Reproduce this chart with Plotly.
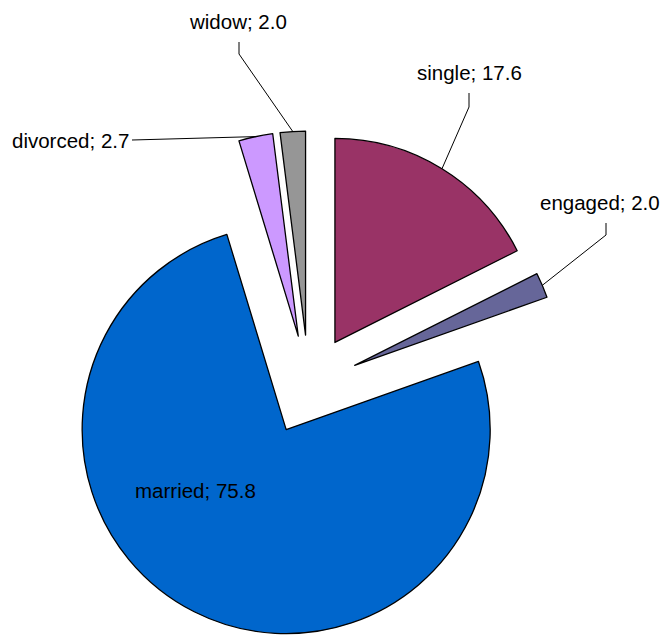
import math
import plotly.graph_objects as go

# ---- data ----
categories = ["single", "engaged", "married", "divorced", "widow"]
values = [17.6, 2.0, 75.8, 2.7, 2.0]
colors = ["#993366", "#666699", "#0066CC", "#CC99FF", "#969696"]

W, H = 672, 639
PULL = 0.245
dom_x = [54.7 / W, 562.7 / W]
dom_y = [0.0, 508.0 / H]

# geometry as plotly computes it (margins are zero)
cx = W * (dom_x[0] + dom_x[1]) / 2
box_h = H * (dom_y[1] - dom_y[0])
box_w = W * (dom_x[1] - dom_x[0])
cy = H * (1 - dom_y[0]) - box_h / 2
r = min(box_w, box_h) / 2 / (1 + PULL)
total = sum(values)


def arc_anchor(i):
    before = sum(values[:i])
    m = (before + values[i] / 2) / total
    th = 2 * math.pi * m
    d = r * (1 + PULL)
    return cx + d * math.sin(th), cy - d * math.cos(th)


def px(x, y):
    return x / W, 1 - y / H


# label layout (pixel positions of texts and leader-line start / elbow)
label_layout = {
    "single": dict(tx=469, ty=73, xanchor="center", start=(469, 93), elbow=(469, 107)),
    "engaged": dict(tx=600, ty=202, xanchor="center", start=(606, 223), elbow=(606, 235)),
    "married": dict(tx=195, ty=490, xanchor="center", start=None, elbow=None),
    "divorced": dict(tx=131, ty=140, xanchor="right", start=(132, 140), elbow=(132, 140)),
    "widow": dict(tx=238, ty=21, xanchor="center", start=(239, 42), elbow=(239, 54)),
}

fig = go.Figure()
fig.add_trace(go.Pie(
    labels=categories,
    values=values,
    sort=False,
    direction="clockwise",
    rotation=0,
    pull=[PULL] * len(values),
    marker=dict(colors=colors, line=dict(color="black", width=1.3)),
    textinfo="none",
    hoverinfo="skip",
    showlegend=False,
    domain=dict(x=dom_x, y=dom_y),
))

font = dict(family="Liberation Sans, Arial, sans-serif", size=20.5, color="black")
shapes = []
annotations = []
for i, (cat, val) in enumerate(zip(categories, values)):
    lay = label_layout[cat]
    x, y = px(lay["tx"], lay["ty"])
    annotations.append(dict(
        x=x, y=y, xref="paper", yref="paper", showarrow=False,
        text=f"{cat}; {val:.1f}", font=font, xanchor=lay["xanchor"], yanchor="middle",
    ))
    if lay["start"] is not None:
        ax, ay = arc_anchor(i)
        p0 = px(*lay["start"])
        p1 = px(*lay["elbow"])
        p2 = px(ax, ay)
        path = f"M {p0[0]},{p0[1]} L {p1[0]},{p1[1]} L {p2[0]},{p2[1]}"
        shapes.append(dict(type="path", path=path, xref="paper", yref="paper",
                           line=dict(color="black", width=1)))

fig.update_layout(
    width=W, height=H,
    margin=dict(l=0, r=0, t=0, b=0),
    paper_bgcolor="white",
    plot_bgcolor="white",
    shapes=shapes,
    annotations=annotations,
)

fig.write_html("out.html")
